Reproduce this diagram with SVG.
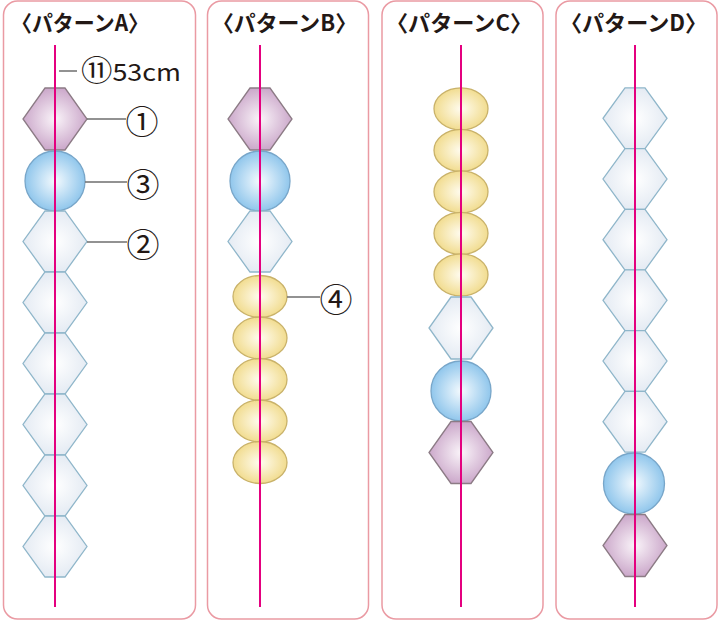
<svg xmlns="http://www.w3.org/2000/svg" xmlns:xlink="http://www.w3.org/1999/xlink" width="719" height="621" viewBox="0 0 719 621">
<defs>
<radialGradient id="gPurple" cx="0.5" cy="0.5" r="0.55"><stop offset="0" stop-color="#faf4f9"/><stop offset="1" stop-color="#c7a1c6"/></radialGradient>
<radialGradient id="gLight" cx="0.5" cy="0.5" r="0.55"><stop offset="0" stop-color="#ffffff"/><stop offset="1" stop-color="#e2e9f2"/></radialGradient>
<radialGradient id="gBlue" cx="0.5" cy="0.5" r="0.55"><stop offset="0" stop-color="#f4fafe"/><stop offset="1" stop-color="#86c1ea"/></radialGradient>
<radialGradient id="gYellow" cx="0.5" cy="0.5" r="0.55"><stop offset="0" stop-color="#fffcf0"/><stop offset="1" stop-color="#f0d986"/></radialGradient>
<polygon id="hex" points="-10,-31 10,-31 32,0 10,31 -10,31 -32,0"/>
</defs>
<style>
.panel{fill:#fff;stroke:#ea9aa3;stroke-width:1.5}
.title{font-family:"Noto Sans CJK JP","Noto Sans",sans-serif;font-size:22px;font-weight:700;fill:#231815}
.num{font-family:"Noto Sans CJK JP","Noto Sans",sans-serif;font-size:33px;fill:#231815}
.lbl{font-family:"Noto Sans CJK JP","Noto Sans",sans-serif;font-size:24px;fill:#231815}
.purple{fill:url(#gPurple);stroke:#8c7b85;stroke-width:1.3}
.light{fill:url(#gLight);stroke:#8fb6ca;stroke-width:1.3}
.blue{fill:url(#gBlue);stroke:#78a6c9;stroke-width:1.3}
.yellow{fill:url(#gYellow);stroke:#c9b26a;stroke-width:1.3}
.str{stroke:#e4007f;stroke-width:2}
.lead{stroke:#6e6e6e;stroke-width:1.5}
</style>

<g id="panelA">
<rect class="panel" x="3.5" y="1" width="192" height="618" rx="14"/>
<text class="title" x="11" y="31" textLength="138" lengthAdjust="spacingAndGlyphs">〈パターンA〉</text>
<g id="A-bead1"><use href="#hex" class="purple" x="55" y="119"/></g>
<g id="A-bead2"><circle class="blue" cx="55" cy="181" r="30"/></g>
<g id="A-bead3"><use href="#hex" class="light" transform="translate(55,241.5) scale(1,0.984)"/></g>
<g id="A-bead4"><use href="#hex" class="light" transform="translate(55,302.5) scale(1,0.984)"/></g>
<g id="A-bead5"><use href="#hex" class="light" transform="translate(55,363.5) scale(1,0.984)"/></g>
<g id="A-bead6"><use href="#hex" class="light" transform="translate(55,424.5) scale(1,0.984)"/></g>
<g id="A-bead7"><use href="#hex" class="light" transform="translate(55,485.5) scale(1,0.984)"/></g>
<g id="A-bead8"><use href="#hex" class="light" transform="translate(55,546.5) scale(1,0.984)"/></g>
<line class="str" x1="55" y1="45" x2="55" y2="607"/>
<g id="label-11"><text class="lbl" x="81" y="81" textLength="100" lengthAdjust="spacingAndGlyphs"><tspan font-size="28">⑪</tspan>53cm</text></g>
<g id="label-1"><text class="num" x="142" y="120" text-anchor="middle" dominant-baseline="central">①</text></g>
<g id="label-3"><text class="num" x="143" y="183" text-anchor="middle" dominant-baseline="central">③</text></g>
<g id="label-2"><text class="num" x="143" y="243" text-anchor="middle" dominant-baseline="central">②</text></g>
</g>

<g id="panelB">
<rect class="panel" x="207.5" y="1" width="161" height="618" rx="14"/>
<text class="title" x="212" y="31" textLength="145" lengthAdjust="spacingAndGlyphs">〈パターンB〉</text>
<g id="B-bead1"><use href="#hex" class="purple" x="260" y="119"/></g>
<g id="B-bead2"><circle class="blue" cx="260" cy="181" r="30"/></g>
<g id="B-bead3"><use href="#hex" class="light" transform="translate(260,241.5) scale(1,0.984)"/></g>
<g id="B-bead4"><ellipse class="yellow" cx="260" cy="296.5" rx="27" ry="21"/></g>
<g id="B-bead5"><ellipse class="yellow" cx="260" cy="338" rx="27" ry="21"/></g>
<g id="B-bead6"><ellipse class="yellow" cx="260" cy="379.5" rx="27" ry="21"/></g>
<g id="B-bead7"><ellipse class="yellow" cx="260" cy="421" rx="27" ry="21"/></g>
<g id="B-bead8"><ellipse class="yellow" cx="260" cy="462.5" rx="27" ry="21"/></g>
<line class="str" x1="260" y1="45" x2="260" y2="607"/>
<g id="label-4"><text class="num" x="336" y="298" text-anchor="middle" dominant-baseline="central">④</text></g>
</g>

<g id="panelC">
<rect class="panel" x="382" y="1" width="161" height="618" rx="14"/>
<text class="title" x="386" y="31" textLength="146" lengthAdjust="spacingAndGlyphs">〈パターンC〉</text>
<g id="C-bead1"><ellipse class="yellow" cx="461" cy="108.8" rx="27" ry="21"/></g>
<g id="C-bead2"><ellipse class="yellow" cx="461" cy="150.3" rx="27" ry="21"/></g>
<g id="C-bead3"><ellipse class="yellow" cx="461" cy="191.8" rx="27" ry="21"/></g>
<g id="C-bead4"><ellipse class="yellow" cx="461" cy="233.3" rx="27" ry="21"/></g>
<g id="C-bead5"><ellipse class="yellow" cx="461" cy="274.8" rx="27" ry="21"/></g>
<g id="C-bead6"><use href="#hex" class="light" x="461" y="328"/></g>
<g id="C-bead7"><circle class="blue" cx="461" cy="391" r="30"/></g>
<g id="C-bead8"><use href="#hex" class="purple" x="461" y="452.5"/></g>
<line class="str" x1="461" y1="45" x2="461" y2="607"/>
</g>

<g id="panelD">
<rect class="panel" x="556" y="1" width="161" height="618" rx="14"/>
<text class="title" x="560" y="31" textLength="147" lengthAdjust="spacingAndGlyphs">〈パターンD〉</text>
<g id="D-bead1"><use href="#hex" class="light" transform="translate(635,118.3) scale(1,0.979)"/></g>
<g id="D-bead2"><use href="#hex" class="light" transform="translate(635,179) scale(1,0.979)"/></g>
<g id="D-bead3"><use href="#hex" class="light" transform="translate(635,239.7) scale(1,0.979)"/></g>
<g id="D-bead4"><use href="#hex" class="light" transform="translate(635,300.3) scale(1,0.979)"/></g>
<g id="D-bead5"><use href="#hex" class="light" transform="translate(635,361) scale(1,0.979)"/></g>
<g id="D-bead6"><use href="#hex" class="light" transform="translate(635,421.7) scale(1,0.979)"/></g>
<g id="D-bead7"><circle class="blue" cx="634" cy="483.5" r="30.5"/></g>
<g id="D-bead8"><use href="#hex" class="purple" x="635" y="545.5"/></g>
<line class="str" x1="635" y1="45" x2="635" y2="607"/>
</g>

<g id="connectors">
<line class="lead" x1="59" y1="71" x2="77" y2="71"/>
<line class="lead" x1="87" y1="119" x2="126" y2="119"/>
<line class="lead" x1="85" y1="182" x2="127" y2="182"/>
<line class="lead" x1="87" y1="242" x2="127" y2="242"/>
<line class="lead" x1="287" y1="297" x2="320" y2="297"/>
</g>
</svg>
